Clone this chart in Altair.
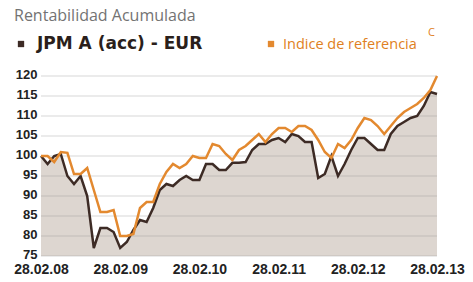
import altair as alt
import pandas as pd

months = list(range(61))
fund = [100, 98, 100, 100.5, 95, 93, 95, 90, 77, 82,
        82, 81, 77, 78.5, 81.5, 84, 83.5, 87, 91.5, 93,
        92.5, 94, 95, 94, 94, 98, 98, 96.5, 96.5, 98.3,
        98.3, 98.5, 101.5, 103, 103, 104, 104.5, 103.5, 105.5, 105,
        103.5, 103.5, 94.5, 95.5, 100, 95, 98, 101.5, 104.5, 104.5,
        103, 101.5, 101.5, 105.5, 107.5, 108.5, 109.5, 110, 112.5, 116,
        115.5]
index_ref = [100, 100, 98.5, 101, 100.8, 95.5, 95.5, 97, 91.5, 86,
             86, 86.5, 80, 80, 80.5, 87, 88.5, 88.5, 93, 96,
             98, 97, 98, 100, 99.5, 99.5, 103, 102.5, 100.5, 99,
             101.5, 102.5, 104, 105.5, 103.5, 105.5, 107, 107, 106, 107.5,
             107.5, 106.5, 104, 101, 99.5, 103, 102, 104, 107, 109.5,
             109, 107.5, 105.5, 107.5, 109.5, 111, 112, 113, 114.5, 116.5,
             120]
x_labels = ["28.02.08", "28.02.09", "28.02.10", "28.02.11", "28.02.12", "28.02.13"]
y_ticks = [75, 80, 85, 90, 95, 100, 105, 110, 115, 120]

df = pd.DataFrame({"m": months, "fund": fund, "ref": index_ref})
grid_df = pd.DataFrame({"v": y_ticks})

label_expr = "[" + ",".join("'%s'" % s for s in x_labels) + "][round(datum.value/12)]"

x_scale = alt.Scale(domain=[0, 60], nice=False, zero=False)
x_axis = alt.Axis(values=[0, 12, 24, 36, 48, 60], labelExpr=label_expr,
                  grid=False, ticks=False, domain=False, title=None,
                  labelFont="Liberation Sans", labelFontSize=14,
                  labelFontWeight="bold", labelColor="#222222",
                  labelPadding=6, labelBaseline="top", labelFlush=False)
y_scale = alt.Scale(domain=[75, 120], nice=False, zero=False)
y_axis = alt.Axis(values=y_ticks, grid=False, ticks=False, domain=False, title=None,
                  labelFont="Liberation Sans", labelFontSize=13, labelFontWeight="bold",
                  labelColor="#222222", labelPadding=4, labelOffset=-2)

area = alt.Chart(df).mark_area(color="#ddd6d0").encode(
    x=alt.X("m:Q", scale=x_scale, axis=x_axis),
    y=alt.Y("fund:Q", scale=y_scale, axis=y_axis),
    y2=alt.datum(75),
)

grid = alt.Chart(grid_df).mark_rule(color="#8a8a8a", opacity=0.35, strokeWidth=1).encode(
    y=alt.Y("v:Q", scale=y_scale, axis=y_axis),
)

fund_line = alt.Chart(df).mark_line(color="#3d2b25", strokeWidth=2.5).encode(
    x=alt.X("m:Q", scale=x_scale, axis=x_axis),
    y=alt.Y("fund:Q", scale=y_scale, axis=y_axis)
)
ref_line = alt.Chart(df).mark_line(color="#e3892f", strokeWidth=2.5).encode(
    x=alt.X("m:Q", scale=x_scale, axis=x_axis),
    y=alt.Y("ref:Q", scale=y_scale, axis=y_axis)
)

one = pd.DataFrame({"a": [0]})
title = alt.Chart(one).mark_text(text="Rentabilidad Acumulada", font="Open Sans",
                                 fontSize=16, color="#737373", align="left",
                                 baseline="alphabetic").encode(
    x=alt.value(-27), y=alt.value(-55))
sq1 = alt.Chart(one).mark_square(color="#3d2b25", size=40, opacity=1).encode(
    x=alt.value(-20), y=alt.value(-32))
lg1 = alt.Chart(one).mark_text(text="JPM A (acc) - EUR", font="DejaVu Sans",
                               fontWeight="bold", fontSize=17, color="#2a1f1b",
                               align="left", baseline="alphabetic").encode(
    x=alt.value(-4), y=alt.value(-27))
sq2 = alt.Chart(one).mark_square(color="#e3892f", size=40, opacity=1).encode(
    x=alt.value(230), y=alt.value(-32))
lg2 = alt.Chart(one).mark_text(text="Indice de referencia", font="Open Sans",
                               fontSize=14.5, color="#e07f22",
                               align="left", baseline="alphabetic").encode(
    x=alt.value(242), y=alt.value(-27))
sup = alt.Chart(one).mark_text(text="C", font="Open Sans",
                               fontSize=11, color="#e07f22",
                               align="left", baseline="alphabetic").encode(
    x=alt.value(387), y=alt.value(-40))

chart = alt.layer(area, grid, fund_line, ref_line, title, sq1, lg1, sq2, lg2, sup).properties(
    width=396, height=180,
    autosize=alt.AutoSizeParams(type="none"),
    padding={"left": 41, "top": 76, "right": 36, "bottom": 26},
    background="white",
).configure_view(stroke=None)

chart.save("out.html", embed_options={"renderer": "svg", "actions": False})
